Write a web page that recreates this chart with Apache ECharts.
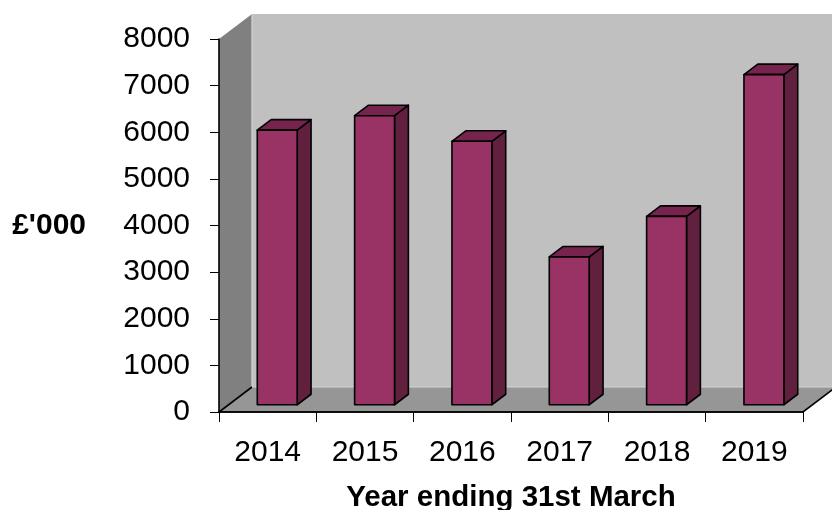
<!DOCTYPE html>
<html>
<head>
<meta charset="utf-8">
<title>Year ending 31st March</title>
<script src="https://cdn.jsdelivr.net/npm/echarts@6/dist/echarts.min.js"></script>
<style>
    html, body { margin: 0; padding: 0; background: #ffffff; }
    #main { width: 832px; height: 510px; }
</style>
</head>
<body>
<div id="main"></div>
<script>
var years = ['2014', '2015', '2016', '2017', '2018', '2019'];
var amounts = [5890, 6200, 5650, 3170, 4040, 7080];
var yTicks = [0, 8000, 1000]; // min, max, step

var depthX = 33;
var depthY = -25;

var bars3d = {
    init() {
        bars3d.draw()
    },
    poly(points, color) {
        return {
            type: 'polygon',
            shape: { points: points },
            style: { fill: color, stroke: '#000', lineWidth: 1.6, lineJoin: 'round' }
        }
    },
    walls(params, api) {
        var cs = params.coordSys;
        var x0 = cs.x, x1 = cs.x + cs.width;
        var yt = cs.y, yb = cs.y + cs.height;
        var dx = depthX, dy = depthY;
        return {
            type: 'group',
            children: [{
                type: 'polygon',
                shape: { points: [[x0 + dx, yt + dy], [x1 + dx, yt + dy], [x1 + dx, yb + dy], [x0 + dx, yb + dy]] },
                style: { fill: '#c0c0c0' }
            }, {
                type: 'polygon',
                shape: { points: [[x0, yt], [x0 + dx, yt + dy], [x0 + dx, yb + dy], [x0, yb]] },
                style: { fill: '#808080' }
            }, {
                type: 'polygon',
                shape: { points: [[x0, yb], [x1, yb], [x1 + dx, yb + dy], [x0 + dx, yb + dy]] },
                style: { fill: '#969696' }
            }, {
                // light edges where the walls meet
                type: 'polyline',
                shape: { points: [[x0 + dx, yt + dy], [x0 + dx, yb + dy], [x1 + dx, yb + dy]] },
                style: { stroke: '#d4d4d4', lineWidth: 1.2, fill: null }
            }, {
                type: 'polyline',
                shape: { points: [[x0 + dx, yb + dy], [x0, yb], [x1, yb], [x1 + dx, yb + dy]] },
                style: { stroke: '#000', lineWidth: 1.6, fill: null }
            }]
        }
    },
    bar(params, api) {
        var top = api.coord([api.value(0), api.value(1)]);
        var base = api.coord([api.value(0), 0]);
        var w = api.size([1, 0])[0] * 0.41;
        var f0 = 0.29, f1 = 0.71;
        var ox = depthX * f0, oy = depthY * f0;
        var sx = depthX * (f1 - f0), sy = depthY * (f1 - f0);
        var l = top[0] - w / 2 + ox, r = top[0] + w / 2 + ox;
        var t = top[1] + oy, b = base[1] + oy;
        return {
            type: 'group',
            children: [
                bars3d.poly([[r, t], [r + sx, t + sy], [r + sx, b + sy], [r, b]], '#62203f'),
                bars3d.poly([[l, t], [l + sx, t + sy], [r + sx, t + sy], [r, t]], '#76244e'),
                bars3d.poly([[l, t], [r, t], [r, b], [l, b]], '#993366')
            ]
        }
    },
    draw() {
        var myChart = echarts.init(document.getElementById('main'));
        var data = amounts.map(function (v, i) { return [i, v]; });
        var option = {
            animation: false,
            grid: { left: 219, right: 29, top: 39, bottom: 98, outerBoundsMode: 'none', containLabel: false },
            xAxis: {
                type: 'category',
                data: years,
                axisLine: { show: true, lineStyle: { color: '#000', width: 1.6 } },
                axisTick: { show: true, length: 10, interval: 0, lineStyle: { color: '#000', width: 1 } },
                axisLabel: { color: '#000', fontSize: 30, fontFamily: 'Liberation Sans', margin: 26, interval: 0 },
                splitLine: { show: false },
                name: 'Year ending 31st March',
                nameLocation: 'middle',
                nameGap: 71,
                nameTextStyle: { color: '#000', fontSize: 29.5, fontWeight: 'bold', fontFamily: 'Liberation Sans' }
            },
            yAxis: {
                type: 'value',
                min: yTicks[0],
                max: yTicks[1],
                interval: yTicks[2],
                axisLine: { show: true, lineStyle: { color: '#000', width: 1.6 } },
                axisTick: { show: true, length: 9, lineStyle: { color: '#000', width: 1 } },
                axisLabel: {
                    color: '#000', fontSize: 30, fontFamily: 'Liberation Sans', margin: 29,
                    formatter: function (v) { return String(v); }
                },
                splitLine: { show: false },
                name: "£'000",
                nameLocation: 'middle',
                nameRotate: 0,
                nameGap: 133,
                nameTextStyle: { color: '#000', fontSize: 30, fontWeight: 'bold', fontFamily: 'Liberation Sans' }
            },
            series: [{
                type: 'custom',
                z: -1,
                silent: true,
                renderItem: bars3d.walls,
                data: [[0, 0]]
            }, {
                type: 'custom',
                z: 3,
                renderItem: bars3d.bar,
                encode: { x: 0, y: 1 },
                data: data
            }]
        };
        myChart.setOption(option);
    }
}
bars3d.init()
</script>
</body>
</html>
